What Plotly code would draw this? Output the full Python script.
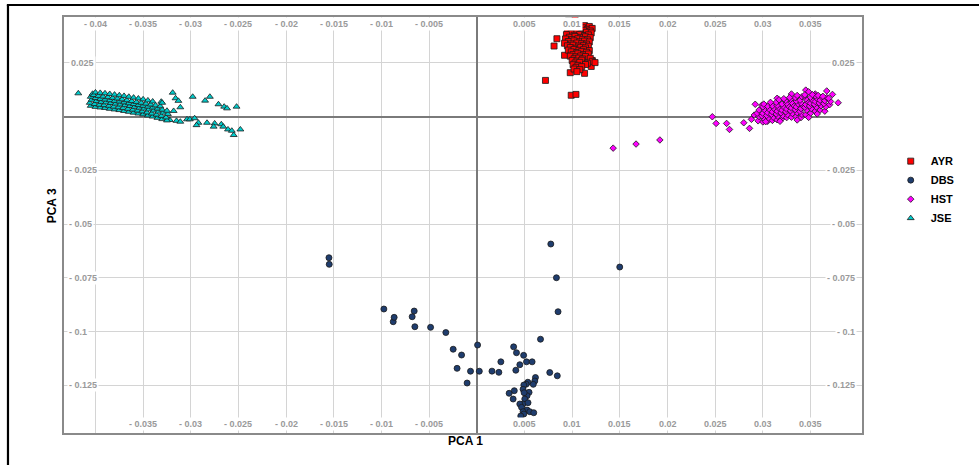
import plotly.graph_objects as go

# ---------------- data ----------------
ayr_points = [
    (0.0096, 0.0444), (0.0103, 0.0452), (0.0084, 0.0362), (0.0081, 0.0328), (0.0092, 0.0285),
    (0.0072, 0.0168), (0.0099, 0.0099), (0.0104, 0.0103), (0.0098, 0.0204), (0.0113, 0.0201),
    (0.0120, 0.0233), (0.0121, 0.0261), (0.0120, 0.0408),
    (0.0100, 0.0421), (0.0108, 0.0417), (0.0113, 0.0423), (0.0118, 0.0419),
    (0.0097, 0.0411), (0.0104, 0.0408), (0.0111, 0.0413), (0.0116, 0.0406), (0.0121, 0.0410),
    (0.0095, 0.0399), (0.0101, 0.0402), (0.0107, 0.0397), (0.0112, 0.0401), (0.0119, 0.0398),
    (0.0099, 0.0388), (0.0105, 0.0391), (0.0110, 0.0386), (0.0115, 0.0392), (0.0120, 0.0389),
    (0.0094, 0.0381), (0.0102, 0.0378), (0.0108, 0.0382), (0.0113, 0.0377), (0.0117, 0.0380),
    (0.0097, 0.0369), (0.0103, 0.0372), (0.0109, 0.0368), (0.0114, 0.0371), (0.0119, 0.0367),
    (0.0093, 0.0361), (0.0100, 0.0358), (0.0106, 0.0362), (0.0111, 0.0359), (0.0116, 0.0357),
    (0.0096, 0.0349), (0.0102, 0.0352), (0.0108, 0.0348), (0.0113, 0.0351), (0.0118, 0.0347),
    (0.0092, 0.0341), (0.0099, 0.0338), (0.0105, 0.0342), (0.0110, 0.0339), (0.0115, 0.0337),
    (0.0095, 0.0329), (0.0101, 0.0332), (0.0107, 0.0328), (0.0112, 0.0331), (0.0117, 0.0327),
    (0.0098, 0.0321), (0.0104, 0.0318), (0.0109, 0.0322), (0.0114, 0.0319),
    (0.0096, 0.0309), (0.0102, 0.0312), (0.0107, 0.0308), (0.0112, 0.0311), (0.0118, 0.0307),
    (0.0099, 0.0301), (0.0105, 0.0298), (0.0110, 0.0302), (0.0115, 0.0299),
    (0.0101, 0.0289), (0.0106, 0.0292), (0.0112, 0.0288), (0.0117, 0.0291),
    (0.0098, 0.0281), (0.0104, 0.0278), (0.0109, 0.0282), (0.0114, 0.0279),
    (0.0102, 0.0269), (0.0107, 0.0272), (0.0111, 0.0268), (0.0119, 0.0271),
    (0.0100, 0.0261), (0.0105, 0.0258), (0.0110, 0.0262), (0.0121, 0.0257),
    (0.0103, 0.0249), (0.0108, 0.0252), (0.0116, 0.0248), (0.0124, 0.0251),
    (0.0101, 0.0241), (0.0106, 0.0238), (0.0114, 0.0242),
    (0.0104, 0.0229), (0.0110, 0.0232),
    (0.0102, 0.0221), (0.0108, 0.0218),
    (0.0105, 0.0209),
]

dbs_points = [
    (-0.01551, -0.06567), (-0.01548, -0.06874), (-0.00975, -0.08953), (-0.00877, -0.09544),
    (-0.00867, -0.09340), (-0.00678, -0.09312), (-0.00657, -0.09047), (-0.00650, -0.09777),
    (-0.00485, -0.09805), (-0.00325, -0.10047), (-0.00248, -0.10823), (-0.00160, -0.11093),
    (-0.00207, -0.11712), (-0.00102, -0.12395), (-0.00066, -0.11847), (0.00008, -0.10628),
    (0.00026, -0.11847), (0.00159, -0.11842), (0.00231, -0.11898), (0.00252, -0.11409),
    (0.00386, -0.10712), (0.00416, -0.10986), (0.00491, -0.11107), (0.00451, -0.11544),
    (0.00521, -0.11409), (0.00580, -0.11409), (0.00409, -0.11800), (0.00668, -0.10358),
    (0.00765, -0.11907), (0.00844, -0.12060), (0.00776, -0.05930), (0.00835, -0.07498),
    (0.00852, -0.09079), (0.01499, -0.07000),
    (0.00615, -0.12140), (0.00608, -0.12302), (0.00592, -0.12456), (0.00535, -0.12358),
    (0.00517, -0.12451), (0.00493, -0.12488), (0.00485, -0.12688), (0.00548, -0.12828),
    (0.00527, -0.12986), (0.00496, -0.12847), (0.00393, -0.12753), (0.00339, -0.12874),
    (0.00381, -0.13140), (0.00503, -0.13140), (0.00485, -0.13372), (0.00537, -0.13312),
    (0.00451, -0.13372), (0.00469, -0.13526), (0.00527, -0.13651), (0.00556, -0.13730),
    (0.00597, -0.13777), (0.00485, -0.13730), (0.00493, -0.13837), (0.00461, -0.13930),
]

hst_points = [
    # scattered outliers
    (0.0143, -0.0147), (0.0167, -0.0128), (0.0192, -0.0109),
    (0.0247, -0.0001), (0.0251, -0.0032), (0.0262, -0.0032), (0.0265, -0.0060),
    (0.0280, -0.0029), (0.0286, -0.0055), (0.0288, -0.0013), (0.0291, 0.0007),
    (0.0292, 0.0057), (0.0299, 0.0053), (0.0315, 0.0085), (0.0330, 0.0105),
    (0.0345, 0.0123), (0.0348, 0.0115), (0.0355, 0.0105), (0.0367, 0.0119),
    (0.0373, 0.0103), (0.0379, 0.0064),
    # main cloud
    (0.0295, -0.0020), (0.0296, 0.0000), (0.0294, 0.0015), (0.0296, 0.0030),
    (0.0300, -0.0025), (0.0301, -0.0010), (0.0299, 0.0003), (0.0300, 0.0015), (0.0302, 0.0030), (0.0300, 0.0045),
    (0.0305, -0.0022), (0.0306, -0.0008), (0.0304, 0.0005), (0.0305, 0.0018), (0.0307, 0.0032), (0.0305, 0.0048),
    (0.0310, -0.0018), (0.0311, -0.0004), (0.0309, 0.0010), (0.0310, 0.0022), (0.0312, 0.0036), (0.0310, 0.0050),
    (0.0315, -0.0015), (0.0316, 0.0000), (0.0314, 0.0012), (0.0315, 0.0025), (0.0317, 0.0038), (0.0315, 0.0052), (0.0314, 0.0066),
    (0.0320, -0.0010), (0.0321, 0.0004), (0.0319, 0.0017), (0.0320, 0.0030), (0.0322, 0.0044), (0.0320, 0.0058),
    (0.0325, -0.0005), (0.0326, 0.0008), (0.0324, 0.0022), (0.0325, 0.0035), (0.0327, 0.0048), (0.0325, 0.0062), (0.0324, 0.0075),
    (0.0330, -0.0003), (0.0331, 0.0014), (0.0329, 0.0027), (0.0330, 0.0040), (0.0332, 0.0053), (0.0330, 0.0066), (0.0329, 0.0080),
    (0.0335, 0.0000), (0.0336, 0.0018), (0.0334, 0.0032), (0.0335, 0.0045), (0.0337, 0.0058), (0.0335, 0.0072), (0.0334, 0.0088),
    (0.0340, -0.0005), (0.0341, 0.0010), (0.0339, 0.0024), (0.0340, 0.0037), (0.0342, 0.0050), (0.0340, 0.0063), (0.0339, 0.0076), (0.0341, 0.0092),
    (0.0345, 0.0008), (0.0346, 0.0030), (0.0344, 0.0043), (0.0345, 0.0056), (0.0347, 0.0069), (0.0345, 0.0082), (0.0344, 0.0095),
    (0.0350, 0.0015), (0.0351, 0.0036), (0.0349, 0.0049), (0.0350, 0.0062), (0.0352, 0.0075), (0.0350, 0.0090),
    (0.0355, 0.0025), (0.0356, 0.0044), (0.0354, 0.0057), (0.0355, 0.0070), (0.0357, 0.0083), (0.0355, 0.0096),
    (0.0360, 0.0030), (0.0361, 0.0050), (0.0359, 0.0063), (0.0360, 0.0076), (0.0362, 0.0090),
    (0.0365, 0.0025), (0.0366, 0.0045), (0.0364, 0.0060), (0.0365, 0.0074), (0.0367, 0.0088),
    (0.0370, 0.0055), (0.0371, 0.0070), (0.0369, 0.0085),
    # fringe of the cloud
    (0.0301, 0.0058), (0.0308, 0.0066), (0.0317, 0.0078), (0.0322, 0.0083), (0.0328, 0.0088),
    (0.0336, 0.0098), (0.0344, 0.0101), (0.0352, 0.0102), (0.0358, 0.0098), (0.0363, 0.0094),
    (0.0303, -0.0024), (0.0318, -0.0022), (0.0336, -0.0016), (0.0348, -0.0004), (0.0357, 0.0012),
]

jse_points = [
    # scattered points
    (-0.0418, 0.0108), (-0.0319, 0.0111), (-0.0316, 0.0085), (-0.0313, 0.0073),
    (-0.0311, 0.0043), (-0.0318, 0.0026), (-0.0298, 0.0092), (-0.0285, 0.0074),
    (-0.0280, 0.0092), (-0.0271, 0.0057), (-0.0265, 0.0046), (-0.0262, 0.0038),
    (-0.0252, 0.0046), (-0.0331, 0.0069),
    (-0.0322, -0.0016), (-0.0315, -0.0020), (-0.0311, -0.0024), (-0.0304, -0.0013),
    (-0.0301, -0.0013), (-0.0296, -0.0008), (-0.0292, -0.0029), (-0.0294, -0.0040),
    (-0.0283, -0.0029), (-0.0275, -0.0032), (-0.0276, -0.0047), (-0.0268, -0.0036),
    (-0.0266, -0.0047), (-0.0261, -0.0060), (-0.0257, -0.0066), (-0.0255, -0.0086),
    (-0.0248, -0.0060),
    # dense band
    (-0.0405, 0.0050), (-0.0406, 0.0064), (-0.0404, 0.0078), (-0.0405, 0.0092), (-0.0403, 0.0106),
    (-0.0400, 0.0045), (-0.0401, 0.0058), (-0.0399, 0.0072), (-0.0400, 0.0086), (-0.0402, 0.0100), (-0.0400, 0.0112),
    (-0.0395, 0.0042), (-0.0396, 0.0055), (-0.0394, 0.0068), (-0.0395, 0.0082), (-0.0397, 0.0096), (-0.0395, 0.0110),
    (-0.0390, 0.0040), (-0.0391, 0.0053), (-0.0389, 0.0066), (-0.0390, 0.0079), (-0.0392, 0.0093), (-0.0390, 0.0108),
    (-0.0385, 0.0036), (-0.0386, 0.0050), (-0.0384, 0.0063), (-0.0385, 0.0076), (-0.0387, 0.0090), (-0.0385, 0.0105),
    (-0.0380, 0.0033), (-0.0381, 0.0046), (-0.0379, 0.0060), (-0.0380, 0.0073), (-0.0382, 0.0087), (-0.0380, 0.0102),
    (-0.0375, 0.0030), (-0.0376, 0.0043), (-0.0374, 0.0056), (-0.0375, 0.0070), (-0.0377, 0.0084), (-0.0375, 0.0099),
    (-0.0370, 0.0026), (-0.0371, 0.0040), (-0.0369, 0.0053), (-0.0370, 0.0066), (-0.0372, 0.0080), (-0.0370, 0.0096),
    (-0.0365, 0.0022), (-0.0366, 0.0036), (-0.0364, 0.0049), (-0.0365, 0.0062), (-0.0367, 0.0076), (-0.0365, 0.0092),
    (-0.0360, 0.0018), (-0.0361, 0.0032), (-0.0359, 0.0045), (-0.0360, 0.0058), (-0.0362, 0.0072), (-0.0360, 0.0088),
    (-0.0355, 0.0014), (-0.0356, 0.0028), (-0.0354, 0.0041), (-0.0355, 0.0054), (-0.0357, 0.0068), (-0.0355, 0.0084),
    (-0.0350, 0.0010), (-0.0351, 0.0024), (-0.0349, 0.0037), (-0.0350, 0.0050), (-0.0352, 0.0064), (-0.0350, 0.0080),
    (-0.0345, 0.0005), (-0.0346, 0.0019), (-0.0344, 0.0033), (-0.0345, 0.0046), (-0.0347, 0.0060), (-0.0345, 0.0075),
    (-0.0340, 0.0000), (-0.0341, 0.0014), (-0.0339, 0.0028), (-0.0340, 0.0042), (-0.0342, 0.0056), (-0.0340, 0.0070),
    (-0.0335, -0.0006), (-0.0336, 0.0009), (-0.0334, 0.0023), (-0.0335, 0.0037), (-0.0337, 0.0052),
    (-0.0330, -0.0012), (-0.0331, 0.0003), (-0.0329, 0.0018), (-0.0330, 0.0032), (-0.0332, 0.0048), (-0.0330, 0.0064),
    (-0.0325, -0.0018), (-0.0326, -0.0004), (-0.0324, 0.0012), (-0.0325, 0.0027),
]

x_tick_top = [-0.04, -0.035, -0.03, -0.025, -0.02, -0.015, -0.01, -0.005,
              0.005, 0.01, 0.015, 0.02, 0.025, 0.03, 0.035]
x_tick_bottom = [-0.035, -0.03, -0.025, -0.02, -0.015, -0.01, -0.005,
                 0.005, 0.01, 0.015, 0.02, 0.025, 0.03, 0.035]
y_ticks = [0.025, -0.025, -0.05, -0.075, -0.1, -0.125]
x_grid = [-0.04, -0.035, -0.03, -0.025, -0.02, -0.015, -0.01, -0.005, 0,
          0.005, 0.01, 0.015, 0.02, 0.025, 0.03, 0.035]
y_grid = [0.025, 0, -0.025, -0.05, -0.075, -0.1, -0.125]


def fmt(v):
    s = ("%g" % abs(v))
    return s if v > 0 else "- " + s


groups = [
    ("AYR", ayr_points, "square", "#FF0000", 6),
    ("DBS", dbs_points, "circle", "#1F3D6E", 6),
    ("HST", hst_points, "diamond", "#FF00FF", 5),
    ("JSE", jse_points, "triangle-up", "#00CDCD", 6),
]

FONT = "Liberation Sans, Arial, sans-serif"

fig = go.Figure()
for name, pts, sym, col, sz in groups:
    fig.add_trace(go.Scatter(
        x=[p[0] for p in pts], y=[p[1] for p in pts], mode="markers", name=name,
        marker=dict(symbol=sym, color=col, size=sz, line=dict(color="#1a1a1a", width=0.8)),
    ))

annotations = []
lab_font = dict(family=FONT, size=9, color="#9a9a9a", weight="bold")
for v in x_tick_top:
    annotations.append(dict(x=v, xref="x", y=0.983, yref="paper", text=fmt(v), showarrow=False,
                            font=lab_font, bgcolor="white", xanchor="center", yanchor="middle"))
for v in x_tick_bottom:
    annotations.append(dict(x=v, xref="x", y=0.022, yref="paper", text=fmt(v), showarrow=False,
                            font=lab_font, bgcolor="white", xanchor="center", yanchor="middle"))
for v in y_ticks:
    annotations.append(dict(x=0.004 if v < 0 else 0.006, xref="paper", y=v, yref="y", text=fmt(v),
                            showarrow=False, font=lab_font, bgcolor="white",
                            xanchor="left", yanchor="middle"))
    annotations.append(dict(x=0.994, xref="paper", y=v, yref="y", text=fmt(v),
                            showarrow=False, font=lab_font, bgcolor="white",
                            xanchor="right", yanchor="middle"))

title_font = dict(family=FONT, size=12, color="black", weight="bold")
annotations.append(dict(x=0.503, xref="paper", y=-0.02, yref="paper", text="PCA 1", showarrow=False,
                        font=title_font, xanchor="center", yanchor="middle"))
annotations.append(dict(x=-0.015, xref="paper", y=0.545, yref="paper", text="PCA 3", showarrow=False,
                        font=title_font, textangle=-90, xanchor="center", yanchor="middle"))

fig.update_layout(
    width=979, height=465,
    margin=dict(l=64, r=117, t=17, b=32),
    paper_bgcolor="white", plot_bgcolor="white",
    font=dict(family=FONT),
    annotations=annotations,
    showlegend=True,
    legend=dict(x=1.036, y=0.585, xanchor="left", yanchor="middle",
                font=dict(family=FONT, size=11, color="black", weight="bold"),
                bgcolor="rgba(0,0,0,0)", itemsizing="trace", tracegroupgap=0),
    shapes=[
        dict(type="line", xref="paper", yref="paper", x0=-0.0702, x1=-0.0702, y0=1.0288, y1=-0.09,
             line=dict(color="black", width=2.2)),
        dict(type="line", xref="paper", yref="paper", x0=-0.0716, x1=1.16, y0=1.0288, y1=1.0288,
             line=dict(color="black", width=2.2)),
    ],
)
fig.update_xaxes(range=[-0.0433, 0.0404], tickvals=x_grid, showticklabels=False, ticks="",
                 showgrid=True, gridcolor="#d4d4d4", gridwidth=1,
                 zeroline=True, zerolinecolor="#7a7a7a", zerolinewidth=1.5,
                 showline=True, mirror=True, linecolor="#8a8a8a", linewidth=1.5)
fig.update_yaxes(range=[-0.1472, 0.0463], tickvals=y_grid, showticklabels=False, ticks="",
                 showgrid=True, gridcolor="#d4d4d4", gridwidth=1,
                 zeroline=True, zerolinecolor="#7a7a7a", zerolinewidth=1.5,
                 showline=True, mirror=True, linecolor="#8a8a8a", linewidth=1.5)

fig.write_html("out.html")
